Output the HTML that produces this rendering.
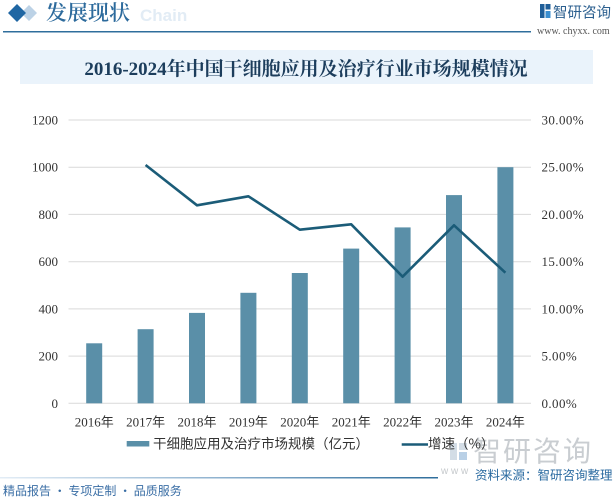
<!DOCTYPE html>
<html>
<head>
<meta charset="utf-8">
<style>
  html,body{margin:0;padding:0;background:#fff;}
  body{width:616px;height:498px;overflow:hidden;position:relative;}
  svg{display:block;}
</style>
</head>
<body>
<svg width="616" height="498" viewBox="0 0 616 498" xmlns="http://www.w3.org/2000/svg">
  <defs>
    <linearGradient id="bl" x1="0" y1="0" x2="1" y2="0">
      <stop offset="0" stop-color="#e3edf6"/>
      <stop offset="0.5" stop-color="#8fb2cf"/>
      <stop offset="1" stop-color="#2f6e9c"/>
    </linearGradient>
  </defs>
  <rect width="616" height="498" fill="#fff"/>

  <!-- header -->
  <polygon points="29,5 37,13 29,21 21,13" fill="#bcd2e6"/>
  <polygon points="17,4 26,13 17,22 8,13" fill="#1f66a3"/>
  <text x="140" y="21" font-family="Liberation Sans, sans-serif" font-weight="bold" font-size="17" fill="#e2ecf5">Chain</text>
  <text x="46" y="20" font-family="'Noto Serif CJK SC', serif" font-weight="600" font-size="21" fill="#2c6a9c">发展现状</text>
  <line x1="3" y1="31.7" x2="531" y2="31.7" stroke="#2f6e9c" stroke-width="1.5"/>

  <!-- logo -->
  <rect x="540" y="4" width="4.5" height="14" fill="#1f5f99"/>
  <rect x="545.5" y="4" width="5" height="5.5" fill="#1f5f99"/>
  <rect x="545.5" y="11" width="5" height="7" fill="#3b8fd0"/>
  <text x="553" y="17.5" font-family="'Noto Sans CJK SC', sans-serif" font-size="14.5" fill="#2b5f8f">智研咨询</text>
  <text x="537" y="34" font-family="'Liberation Serif', serif" font-size="10" fill="#555">www. chyxx. com</text>

  <!-- title band -->
  <rect x="20" y="50" width="573" height="34" fill="#eaf3fb"/>
  <text x="306" y="75" text-anchor="middle" font-family="'Liberation Serif','Noto Serif CJK SC', serif" font-weight="bold" font-size="19" fill="#1c3d5c">2016-2024年中国干细胞应用及治疗行业市场规模情况</text>

  <!-- grid -->
  <g stroke="#d9d9d9" stroke-width="1">
    <line x1="68.5" y1="120" x2="531" y2="120"/>
    <line x1="68.5" y1="167.2" x2="531" y2="167.2"/>
    <line x1="68.5" y1="214.4" x2="531" y2="214.4"/>
    <line x1="68.5" y1="261.7" x2="531" y2="261.7"/>
    <line x1="68.5" y1="308.9" x2="531" y2="308.9"/>
    <line x1="68.5" y1="356.1" x2="531" y2="356.1"/>
    <line x1="68.5" y1="403.3" x2="531" y2="403.3"/>
  </g>

  <!-- left axis labels -->
  <g font-family="'Liberation Serif', serif" font-size="13" fill="#333" text-anchor="end">
    <text x="58" y="124.5">1200</text>
    <text x="58" y="171.7">1000</text>
    <text x="58" y="218.9">800</text>
    <text x="58" y="266.2">600</text>
    <text x="58" y="313.4">400</text>
    <text x="58" y="360.6">200</text>
    <text x="58" y="407.8">0</text>
  </g>
  <!-- right axis labels -->
  <g font-family="'Liberation Serif', serif" font-size="13" fill="#333" letter-spacing="0.4">
    <text x="541.5" y="124.5">30.00%</text>
    <text x="541.5" y="171.7">25.00%</text>
    <text x="541.5" y="218.9">20.00%</text>
    <text x="541.5" y="266.2">15.00%</text>
    <text x="541.5" y="313.4">10.00%</text>
    <text x="541.5" y="360.6">5.00%</text>
    <text x="541.5" y="407.8">0.00%</text>
  </g>

  <!-- bars -->
  <g fill="#5a8fa8">
    <rect x="86.2" y="343.3" width="16" height="60"/>
    <rect x="137.6" y="329.2" width="16" height="74.1"/>
    <rect x="189" y="312.9" width="16" height="90.4"/>
    <rect x="240.4" y="292.8" width="16" height="110.5"/>
    <rect x="291.8" y="273.0" width="16" height="130.3"/>
    <rect x="343.2" y="248.6" width="16" height="154.7"/>
    <rect x="394.6" y="227.4" width="16" height="175.9"/>
    <rect x="446" y="195.1" width="16" height="208.2"/>
    <rect x="497.4" y="167.2" width="16" height="236.1"/>
  </g>

  <!-- line -->
  <polyline fill="none" stroke="#1b5c78" stroke-width="2.6" stroke-linejoin="round"
    points="145.6,165 197,205.3 248.4,196.3 299.8,229.7 351.2,224.3 402.6,276.7 454,225.3 505.4,272.7"/>

  <!-- x labels -->
  <g font-family="'Liberation Serif','Noto Sans CJK SC', serif" font-size="13" fill="#333" text-anchor="middle">
    <text x="94.2" y="426.5">2016年</text>
    <text x="145.6" y="426.5">2017年</text>
    <text x="197" y="426.5">2018年</text>
    <text x="248.4" y="426.5">2019年</text>
    <text x="299.8" y="426.5">2020年</text>
    <text x="351.2" y="426.5">2021年</text>
    <text x="402.6" y="426.5">2022年</text>
    <text x="454" y="426.5">2023年</text>
    <text x="505.4" y="426.5">2024年</text>
  </g>

  <!-- watermark bottom right -->
  <rect x="450" y="443" width="7" height="17" fill="#d3dde6"/>
  <rect x="459" y="443" width="8" height="7" fill="#d3dde6"/>
  <rect x="459" y="452" width="8" height="8" fill="#b9d0e6"/>
  <text x="473" y="461" font-family="'Noto Sans CJK SC', sans-serif" font-size="28" fill="#c9cdd1" letter-spacing="2">智研咨询</text>
  <text x="441" y="474" font-family="'Liberation Sans', sans-serif" font-size="10" fill="#c5c9cc">w w w</text>

  <!-- legend -->
  <rect x="126.7" y="441" width="22.6" height="5.5" fill="#5a8fa8"/>
  <text x="153" y="448.5" font-family="'Noto Sans CJK SC', sans-serif" font-size="13.5" fill="#333">干细胞应用及治疗市场规模（亿元）</text>
  <line x1="401.7" y1="444.5" x2="428" y2="444.5" stroke="#1b5c78" stroke-width="2.6"/>
  <text x="428" y="448.5" font-family="'Noto Sans CJK SC', sans-serif" font-size="13.5" fill="#333">增速（%）</text>

  <!-- bottom -->
  <rect x="0" y="477" width="438" height="1.5" fill="url(#bl)"/>
  <text x="475" y="479.5" font-family="'Noto Sans CJK SC', sans-serif" font-size="12.5" fill="#2a6aa0">资料来源：智研咨询整理</text>
  <text x="3" y="495" font-family="'Noto Sans CJK SC', sans-serif" font-size="12" fill="#3a6ea5">精品报告 · 专项定制 · 品质服务</text>
</svg>
</body>
</html>
